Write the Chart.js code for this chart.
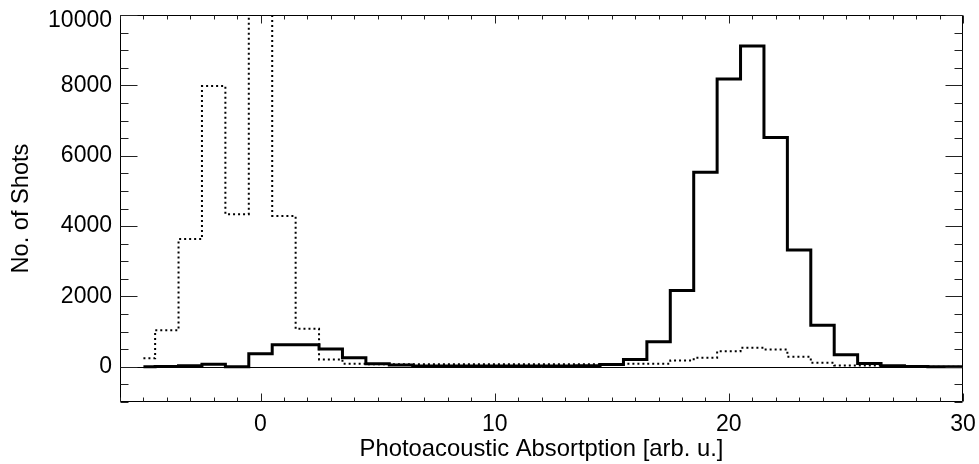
<!DOCTYPE html>
<html><head><meta charset="utf-8">
<script src="https://cdn.jsdelivr.net/npm/chart.js@4/dist/chart.umd.min.js"></script>
<style>html,body{margin:0;padding:0;background:#fff}#wrap{width:979px;height:464px}</style>
</head><body><div id="wrap"><canvas id="c" width="979" height="464"></canvas></div>
<script>
// Bin centres (arb. u.), width 1
const binCenters = [-5,-4,-3,-2,-1,0,1,2,3,4,5,6,7,8,9,10,11,12,13,14,15,16,17,18,19,20,21,22,23,24,25,26,27,28,29,30];
// Solid histogram (No. of Shots)
const solidCounts = [5,10,30,75,5,370,630,630,510,255,90,55,25,20,20,20,20,20,20,30,65,210,710,2170,5530,8180,9120,6520,3320,1180,340,95,30,10,5,5];
// Dotted histogram (No. of Shots); the bin at 0 runs off the top of the plot
const dottedCounts = [240,1040,3630,7980,4340,14500,4290,1080,210,90,70,70,70,70,70,70,70,70,70,70,75,85,90,180,255,445,540,490,285,115,40,40,20,10,5,0];
const xTickLabels = [0,10,20,30];
const yTickLabels = [0,2000,4000,6000,8000,10000];
const xRange = [-6,30];
const yRange = [-1000,10000];
const xMinorStep = 1;
const yMinorStep = 500;

const FONT = '"Liberation Sans", Arial, Helvetica, sans-serif';

const frameTicks = {
  id: 'frameTicks',
  beforeDatasetsDraw(chart) {
    const {ctx, chartArea: a, scales: {y}} = chart;
    const py = Math.round(y.getPixelForValue(0)) + 0.5;
    ctx.save();
    ctx.strokeStyle = '#000'; ctx.lineWidth = 1;
    ctx.beginPath(); ctx.moveTo(a.left, py); ctx.lineTo(a.right, py); ctx.stroke();
    ctx.restore();
  },
  afterDraw(chart) {
    const {ctx, chartArea: a, scales: {x, y}} = chart;
    ctx.save();
    ctx.strokeStyle = '#000'; ctx.lineWidth = 1;
    const L = Math.round(a.left) + 0.5, R = Math.round(a.right) - 0.5;
    const T = Math.round(a.top) + 0.5, B = Math.round(a.bottom) - 0.5;
    ctx.beginPath(); ctx.rect(L, T, R - L, B - T); ctx.stroke();
    ctx.strokeStyle = '#222';
    ctx.beginPath();
    for (let v = xRange[0]; v <= xRange[1] + 1e-9; v += xMinorStep) {
      const px = Math.round(x.getPixelForValue(v)) + 0.5;
      const len = xTickLabels.includes(v) ? 8 : 4;
      ctx.moveTo(px, B); ctx.lineTo(px, B - len);
      ctx.moveTo(px, T); ctx.lineTo(px, T + len);
    }
    for (let v = yRange[0]; v <= yRange[1] + 1e-9; v += yMinorStep) {
      const py = Math.round(y.getPixelForValue(v)) + 0.5;
      const len = yTickLabels.includes(v) ? 17 : 8;
      ctx.moveTo(L, py); ctx.lineTo(L + len, py);
      ctx.moveTo(R, py); ctx.lineTo(R - len, py);
    }
    ctx.stroke();
    ctx.restore();
  }
};

function zeroPad(s) { s.paddingTop = 0; s.paddingBottom = 0; s.paddingLeft = 0; s.paddingRight = 0; }
const isTopY = c => c && c.tick && c.tick.value === yRange[1];

new Chart(document.getElementById('c'), {
  type: 'line',
  data: {
    datasets: [
      {
        label: 'dotted',
        data: binCenters.map((v, i) => ({x: v, y: dottedCounts[i]})),
        stepped: 'middle',
        borderColor: '#000',
        borderWidth: 2,
        borderDash: [2, 3],
        pointRadius: 0,
        fill: false
      },
      {
        label: 'solid',
        data: binCenters.map((v, i) => ({x: v, y: solidCounts[i]})),
        stepped: 'middle',
        borderColor: '#000',
        borderWidth: 3,
        pointRadius: 0,
        fill: false
      }
    ]
  },
  options: {
    responsive: false,
    animation: false,
    devicePixelRatio: 1,
    layout: {padding: {top: 15, right: 16, left: 0, bottom: 0}},
    plugins: {legend: {display: false}, tooltip: {enabled: false}},
    scales: {
      x: {
        type: 'linear',
        min: xRange[0], max: xRange[1],
        afterBuildTicks: s => { s.ticks = xTickLabels.map(v => ({value: v})); },
        afterFit: s => { s.height = 62; zeroPad(s); },
        grid: {display: false, drawTicks: false, tickLength: 0},
        border: {display: false},
        ticks: {color: '#000', font: {family: FONT, size: 23}, padding: 9, maxRotation: 0, autoSkip: false},
        title: {display: true, text: 'Photoacoustic Absortption [arb. u.]', color: '#000',
                font: {family: FONT, size: 23.8}, padding: {top: 0, bottom: 0}}
      },
      y: {
        type: 'linear',
        min: yRange[0], max: yRange[1],
        afterBuildTicks: s => { s.ticks = yTickLabels.map(v => ({value: v})); },
        afterFit: s => { s.width = 120; zeroPad(s); },
        grid: {display: false, drawTicks: false, tickLength: 0},
        border: {display: false},
        ticks: {
          color: '#000',
          font: c => ({family: FONT, size: 23, lineHeight: isTopY(c) ? '12px' : 1.2}),
          padding: 8,
          callback: v => v === yRange[1] ? ['', String(v)] : String(v)
        },
        title: {display: true, text: 'No. of Shots', color: '#000',
                font: {family: FONT, size: 23.6}, padding: {top: 7, bottom: 0}}
      }
    }
  },
  plugins: [frameTicks]
});
</script>
</body></html>
